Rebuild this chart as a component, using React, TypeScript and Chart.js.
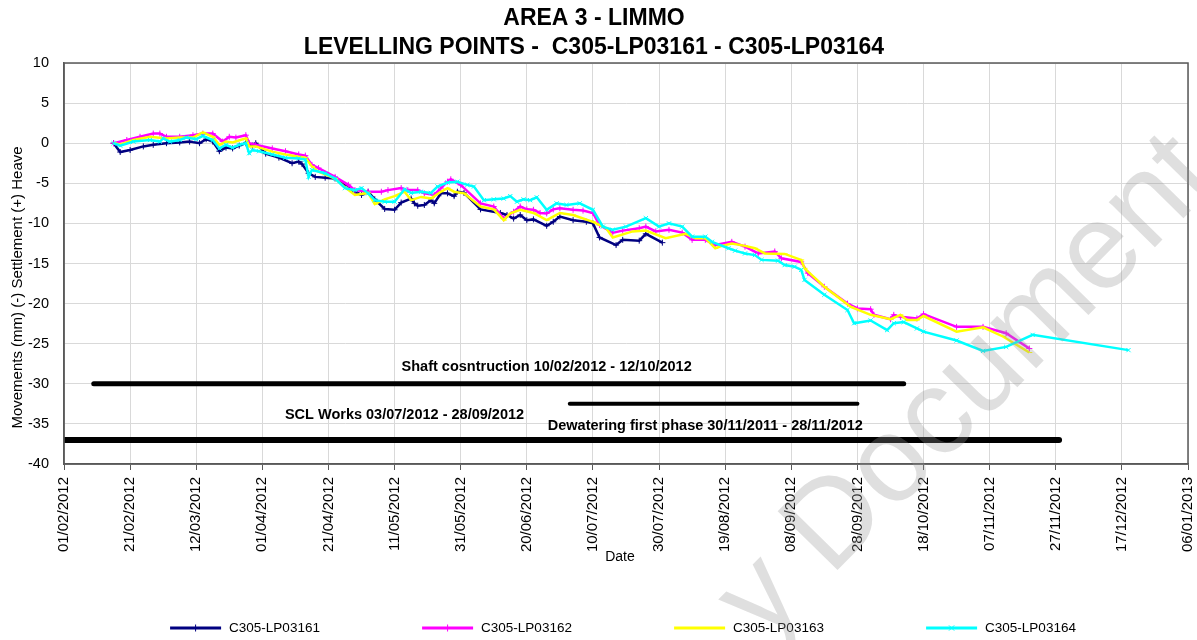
import { useEffect, useRef } from "react";
import { Chart, registerables } from "chart.js";

Chart.register(...registerables);

const FONT = "'Liberation Sans', Arial, sans-serif";

const TITLE_LINES = ["AREA 3 - LIMMO", "LEVELLING POINTS -  C305-LP03161 - C305-LP03164"];
const Y_AXIS_TITLE = "Movements (mm) (-) Settlement (+) Heave";
const X_AXIS_TITLE = "Date";
const WATERMARK = "y Document";

const X_AXIS_START = "2012-02-01";
const X_AXIS_END = "2013-01-06";
const X_TICK_STEP_DAYS = 20;
const Y_MIN = -40;
const Y_MAX = 10;
const Y_STEP = 5;

const SERIES_NAMES = ["C305-LP03161", "C305-LP03162", "C305-LP03163", "C305-LP03164"];
const SERIES_COLORS = ["#000080", "#FF00FF", "#FFFF00", "#00FFFF"];
const SERIES_MARKERS = ["cross", "cross", "dash", "crossRot"];

const lp03161Dates = [
  "2012-02-16", "2012-02-18", "2012-02-21", "2012-02-25", "2012-02-28", "2012-03-03", "2012-03-07", "2012-03-10",
  "2012-03-13", "2012-03-15", "2012-03-17", "2012-03-19", "2012-03-21", "2012-03-23", "2012-03-25", "2012-03-27",
  "2012-03-29", "2012-03-30", "2012-04-02", "2012-04-06", "2012-04-10", "2012-04-12", "2012-04-13", "2012-04-15",
  "2012-04-17", "2012-04-20", "2012-04-23", "2012-04-26", "2012-04-29", "2012-05-01", "2012-05-03", "2012-05-05",
  "2012-05-08", "2012-05-11", "2012-05-13", "2012-05-16", "2012-05-17", "2012-05-18", "2012-05-20", "2012-05-22",
  "2012-05-23", "2012-05-25", "2012-05-27", "2012-05-29", "2012-05-30", "2012-06-01", "2012-06-06", "2012-06-12",
  "2012-06-14", "2012-06-16", "2012-06-18", "2012-06-20", "2012-06-22", "2012-06-26", "2012-06-28", "2012-06-30",
  "2012-07-04", "2012-07-08", "2012-07-10", "2012-07-12", "2012-07-17", "2012-07-19", "2012-07-24", "2012-07-26",
  "2012-07-31",
];
const lp03161Values = [
  0.0, -1.1, -0.85, -0.4, -0.2, 0.0, 0.1, 0.2,
  0.0, 0.5, 0.2, -1.0, -0.55, -0.65, -0.3, 0.0,
  -0.3, 0.0, -1.3, -1.8, -2.5, -2.3, -2.6, -3.75,
  -4.2, -4.3, -4.4, -5.2, -6.05, -6.45, -6.05, -7.0,
  -8.2, -8.3, -7.4, -6.9, -7.5, -7.8, -7.7, -7.1,
  -7.5, -6.25, -6.25, -6.6, -6.05, -6.2, -8.25, -8.7,
  -8.95, -9.4, -8.95, -9.6, -9.5, -10.3, -9.8, -9.15,
  -9.6, -9.8, -10.0, -11.75, -12.7, -12.05, -12.15, -11.3,
  -12.4,
];

const lp03162Dates = [
  "2012-02-16", "2012-02-20", "2012-02-24", "2012-02-28", "2012-03-01", "2012-03-03", "2012-03-07", "2012-03-11",
  "2012-03-14", "2012-03-17", "2012-03-20", "2012-03-22", "2012-03-24", "2012-03-27", "2012-03-28", "2012-03-30",
  "2012-04-04", "2012-04-08", "2012-04-12", "2012-04-14", "2012-04-16", "2012-04-18", "2012-04-23", "2012-04-27",
  "2012-04-29", "2012-05-03", "2012-05-07", "2012-05-09", "2012-05-13", "2012-05-15", "2012-05-18", "2012-05-20",
  "2012-05-23", "2012-05-25", "2012-05-27", "2012-05-28", "2012-05-31", "2012-06-06", "2012-06-10", "2012-06-13",
  "2012-06-16", "2012-06-18", "2012-06-20", "2012-06-22", "2012-06-24", "2012-06-26", "2012-06-28", "2012-06-30",
  "2012-07-04", "2012-07-07", "2012-07-10", "2012-07-12", "2012-07-16", "2012-07-19", "2012-07-24", "2012-07-26",
  "2012-07-29", "2012-08-02", "2012-08-06", "2012-08-09", "2012-08-13", "2012-08-16", "2012-08-21", "2012-08-25",
  "2012-08-29", "2012-09-03", "2012-09-05", "2012-09-11", "2012-09-13", "2012-09-18", "2012-09-25", "2012-09-28",
  "2012-10-02", "2012-10-03", "2012-10-08", "2012-10-09", "2012-10-11", "2012-10-16", "2012-10-18", "2012-10-28",
  "2012-11-05", "2012-11-12", "2012-11-19",
];
const lp03162Values = [
  0.0, 0.4, 0.8, 1.2, 1.2, 0.8, 0.8, 1.0,
  1.2, 1.2, 0.2, 0.8, 0.7, 1.0, 0.0, -0.2,
  -0.65, -1.0, -1.4, -1.55, -2.7, -3.1, -4.2, -5.2,
  -5.85, -6.05, -6.05, -5.85, -5.6, -5.85, -5.85, -6.25,
  -6.45, -5.6, -4.8, -4.5, -5.2, -7.5, -7.9, -9.4,
  -8.55, -7.9, -8.25, -8.3, -8.7, -8.75, -8.25, -8.1,
  -8.3, -8.4, -8.7, -10.2, -11.15, -10.9, -10.6, -10.4,
  -11.0, -10.8, -11.15, -12.05, -12.05, -12.7, -12.3, -12.9,
  -13.75, -13.5, -14.35, -14.8, -16.2, -17.9, -20.0, -20.6,
  -20.7, -21.4, -21.95, -21.4, -21.65, -21.85, -21.3, -22.9,
  -22.9, -23.7, -25.6,
];

const lp03163Dates = [
  "2012-02-16", "2012-02-18", "2012-02-22", "2012-02-27", "2012-03-03", "2012-03-07", "2012-03-11", "2012-03-14",
  "2012-03-17", "2012-03-19", "2012-03-21", "2012-03-23", "2012-03-27", "2012-03-28", "2012-03-30", "2012-04-04",
  "2012-04-08", "2012-04-12", "2012-04-14", "2012-04-16", "2012-04-18", "2012-04-23", "2012-04-26", "2012-04-29",
  "2012-05-03", "2012-05-05", "2012-05-08", "2012-05-11", "2012-05-14", "2012-05-16", "2012-05-19", "2012-05-22",
  "2012-05-25", "2012-05-27", "2012-05-29", "2012-06-01", "2012-06-06", "2012-06-10", "2012-06-13", "2012-06-15",
  "2012-06-18", "2012-06-22", "2012-06-26", "2012-06-30", "2012-07-04", "2012-07-10", "2012-07-14", "2012-07-16",
  "2012-07-22", "2012-07-26", "2012-08-01", "2012-08-07", "2012-08-10", "2012-08-13", "2012-08-16", "2012-08-18",
  "2012-08-21", "2012-08-25", "2012-08-28", "2012-08-31", "2012-09-06", "2012-09-11", "2012-09-12", "2012-09-18",
  "2012-09-26", "2012-10-02", "2012-10-08", "2012-10-11", "2012-10-13", "2012-10-16", "2012-10-18", "2012-10-28",
  "2012-11-05", "2012-11-11", "2012-11-19",
];
const lp03163Values = [
  0.0, -0.15, 0.4, 0.8, 0.6, 0.7, 0.7, 1.35,
  0.8, -0.2, 0.2, 0.1, 0.6, -0.4, -0.4, -1.05,
  -1.4, -1.7, -1.8, -2.9, -3.55, -4.4, -5.5, -6.45,
  -6.2, -7.6, -7.0, -6.6, -6.05, -7.1, -6.7, -6.9,
  -6.05, -5.6, -6.05, -6.25, -7.9, -8.25, -9.6, -8.75,
  -8.3, -8.7, -9.6, -8.7, -8.95, -9.8, -10.6, -11.75,
  -11.0, -10.9, -11.85, -11.3, -11.85, -11.85, -13.1, -12.8,
  -12.5, -12.8, -13.1, -13.75, -13.8, -14.55, -15.6, -17.9,
  -20.4, -21.4, -21.95, -21.4, -22.05, -22.05, -21.55, -23.5,
  -22.95, -24.1, -26.1,
];

const lp03164Dates = [
  "2012-02-16", "2012-02-18", "2012-02-22", "2012-02-27", "2012-03-01", "2012-03-02", "2012-03-04", "2012-03-07",
  "2012-03-09", "2012-03-12", "2012-03-14", "2012-03-17", "2012-03-19", "2012-03-21", "2012-03-23", "2012-03-25",
  "2012-03-27", "2012-03-28", "2012-03-29", "2012-03-31", "2012-04-04", "2012-04-08", "2012-04-12", "2012-04-14",
  "2012-04-15", "2012-04-16", "2012-04-20", "2012-04-23", "2012-04-26", "2012-04-29", "2012-05-01", "2012-05-03",
  "2012-05-05", "2012-05-08", "2012-05-11", "2012-05-14", "2012-05-16", "2012-05-19", "2012-05-22", "2012-05-24",
  "2012-05-27", "2012-05-30", "2012-06-02", "2012-06-04", "2012-06-07", "2012-06-10", "2012-06-13", "2012-06-15",
  "2012-06-17", "2012-06-19", "2012-06-21", "2012-06-23", "2012-06-26", "2012-06-29", "2012-07-02", "2012-07-06",
  "2012-07-10", "2012-07-13", "2012-07-16", "2012-07-20", "2012-07-26", "2012-07-30", "2012-08-02", "2012-08-06",
  "2012-08-09", "2012-08-13", "2012-08-15", "2012-08-20", "2012-08-22", "2012-08-25", "2012-08-28", "2012-08-30",
  "2012-09-04", "2012-09-06", "2012-09-09", "2012-09-11", "2012-09-12", "2012-09-18", "2012-09-25", "2012-09-27",
  "2012-10-02", "2012-10-07", "2012-10-09", "2012-10-12", "2012-10-16", "2012-10-18", "2012-10-28", "2012-11-05",
  "2012-11-12", "2012-11-20", "2012-12-19",
];
const lp03164Values = [
  0.0, -0.3, 0.2, 0.4, 0.2, 0.6, 0.2, 0.4,
  0.7, 0.5, 0.9, 0.4, -0.65, -0.2, -0.55, -0.2,
  0.0, -1.25, -0.85, -1.0, -1.4, -1.8, -1.9, -2.05,
  -4.2, -3.35, -3.75, -4.4, -5.6, -5.85, -5.6, -6.25,
  -7.1, -7.3, -7.3, -5.75, -6.2, -6.05, -6.2, -5.4,
  -4.9, -4.8, -5.2, -5.4, -7.1, -7.0, -6.9, -6.6,
  -7.3, -7.0, -7.1, -6.75, -8.3, -7.5, -7.7, -7.5,
  -8.3, -10.4, -10.8, -10.4, -9.35, -10.4, -10.0, -10.4,
  -11.65, -11.65, -12.3, -13.1, -13.4, -13.75, -13.95, -14.55,
  -14.65, -15.2, -15.4, -15.8, -17.05, -18.9, -20.8, -22.45,
  -22.1, -23.3, -22.45, -22.3, -23.1, -23.5, -24.6, -25.9,
  -25.4, -23.9, -25.8,
];

const SERIES_DATES = [lp03161Dates, lp03162Dates, lp03163Dates, lp03164Dates];
const SERIES_VALUES = [lp03161Values, lp03162Values, lp03163Values, lp03164Values];

const PHASE_LABELS = [
  "Shaft cosntruction 10/02/2012 - 12/10/2012",
  "SCL Works 03/07/2012 - 28/09/2012",
  "Dewatering first phase 30/11/2011 - 28/11/2012",
];
const PHASE_STARTS = ["2012-02-10", "2012-07-03", "2011-11-30"];
const PHASE_ENDS = ["2012-10-12", "2012-09-28", "2012-11-28"];
const PHASE_LEVELS = [-30, -32.5, -37];
const PHASE_LABEL_DATES = ["2012-06-26", "2012-05-14", "2012-08-13"];
const PHASE_LABEL_LEVELS = [-27.9, -33.9, -35.25];
const PHASE_LINE_WIDTHS = [5, 4, 6];

const DAY_MS = 86400000;
const parseIso = (iso: string) => {
  const [y, m, d] = iso.split("-").map(Number);
  return Date.UTC(y, m - 1, d);
};
const BASE_MS = parseIso(X_AXIS_START);
const toDay = (iso: string) => (parseIso(iso) - BASE_MS) / DAY_MS;
const pad2 = (n: number) => (n < 10 ? "0" + n : "" + n);
const fmtDay = (day: number) => {
  const d = new Date(BASE_MS + Math.round(day) * DAY_MS);
  return `${pad2(d.getUTCDate())}/${pad2(d.getUTCMonth() + 1)}/${d.getUTCFullYear()}`;
};

function drawMarker(ctx: CanvasRenderingContext2D, style: string, x: number, y: number, r: number) {
  ctx.beginPath();
  if (style === "cross") {
    ctx.moveTo(x - r, y); ctx.lineTo(x + r, y);
    ctx.moveTo(x, y - r); ctx.lineTo(x, y + r);
  } else if (style === "crossRot") {
    const k = r * 0.75;
    ctx.moveTo(x - k, y - k); ctx.lineTo(x + k, y + k);
    ctx.moveTo(x - k, y + k); ctx.lineTo(x + k, y - k);
  } else {
    ctx.moveTo(x - r, y); ctx.lineTo(x + r, y);
  }
  ctx.stroke();
}

const decorPlugin = {
  id: "decor",
  afterDatasetsDraw(chart: any) {
    const { ctx, chartArea, scales } = chart;
    const { left, right, top, bottom } = chartArea;
    ctx.save();
    ctx.strokeStyle = "#595959";
    ctx.lineWidth = 1.5;
    ctx.strokeRect(left, top, right - left, bottom - top);

    ctx.fillStyle = "#000";
    ctx.font = `bold 14.5px ${FONT}`;
    ctx.textAlign = "center";
    ctx.textBaseline = "middle";
    PHASE_LABELS.forEach((txt, i) => {
      const x = scales.x.getPixelForValue(toDay(PHASE_LABEL_DATES[i]));
      const y = scales.y.getPixelForValue(PHASE_LABEL_LEVELS[i]);
      ctx.fillText(txt, x, y);
    });

    ctx.font = `15px ${FONT}`;
    ctx.save();
    ctx.translate(18, (top + bottom) / 2 + 24);
    ctx.rotate(-Math.PI / 2);
    ctx.fillText(Y_AXIS_TITLE, 0, 0);
    ctx.restore();
    ctx.font = `14px ${FONT}`;
    ctx.fillText(X_AXIS_TITLE, (left + right) / 2 - 6, bottom + 93);

    ctx.font = `13.5px ${FONT}`;
    ctx.textAlign = "left";
    const lineLen = 51;
    const gap = 8;
    const step = 252;
    const textW = ctx.measureText(SERIES_NAMES[0]).width;
    const total = step * (SERIES_NAMES.length - 1) + lineLen + gap + textW;
    let x0 = (left + right) / 2 - total / 2 - 3;
    const ly = chart.height - 12;
    SERIES_NAMES.forEach((name, i) => {
      ctx.strokeStyle = SERIES_COLORS[i];
      ctx.lineWidth = 3;
      ctx.beginPath();
      ctx.moveTo(x0, ly);
      ctx.lineTo(x0 + lineLen, ly);
      ctx.stroke();
      ctx.lineWidth = 1;
      drawMarker(ctx, SERIES_MARKERS[i], x0 + lineLen / 2, ly, 3.5);
      ctx.fillStyle = "#000";
      ctx.fillText(name, x0 + lineLen + gap, ly);
      x0 += step;
    });
    ctx.restore();
  },
  afterDraw(chart: any) {
    const { ctx } = chart;
    ctx.save();
    ctx.translate(764, 645);
    ctx.rotate((-45.5 * Math.PI) / 180);
    ctx.font = `122px ${FONT}`;
    ctx.fillStyle = "rgba(150,150,150,0.3)";
    ctx.textAlign = "left";
    ctx.textBaseline = "alphabetic";
    ctx.fillText(WATERMARK, 0, 0);
    ctx.restore();
  },
};

export default function App() {
  const ref = useRef<HTMLCanvasElement | null>(null);

  useEffect(() => {
    if (!ref.current) return;
    const seriesSets = SERIES_NAMES.map((name, i) => ({
      label: name,
      data: SERIES_DATES[i].map((d, j) => ({ x: toDay(d), y: SERIES_VALUES[i][j] })),
      borderColor: SERIES_COLORS[i],
      backgroundColor: SERIES_COLORS[i],
      borderWidth: 2.5,
      pointStyle: SERIES_MARKERS[i],
      pointRadius: 3,
      pointBorderWidth: 1,
      pointBorderColor: SERIES_COLORS[i],
      tension: 0,
      fill: false,
      order: SERIES_NAMES.length - i,
    }));
    const phaseSets = PHASE_LABELS.map((name, i) => ({
      label: name,
      data: [
        { x: toDay(PHASE_STARTS[i]), y: PHASE_LEVELS[i] },
        { x: toDay(PHASE_ENDS[i]), y: PHASE_LEVELS[i] },
      ],
      borderColor: "#000",
      backgroundColor: "#000",
      borderWidth: PHASE_LINE_WIDTHS[i],
      borderCapStyle: "round",
      pointRadius: 0,
      fill: false,
      order: 10,
    }));

    const chart = new Chart(ref.current, {
      type: "line",
      data: { datasets: [...seriesSets, ...phaseSets] as any },
      options: {
        responsive: true,
        maintainAspectRatio: false,
        animation: false,
        layout: { padding: { left: 0, right: 9, top: 0, bottom: 76 } },
        plugins: {
          legend: { display: false },
          tooltip: { enabled: false },
          title: {
            display: true,
            text: TITLE_LINES,
            color: "#000",
            font: { family: FONT, size: 23, weight: "bold", lineHeight: "29px" } as any,
            padding: { top: 4, bottom: 1 },
          },
        },
        scales: {
          x: {
            type: "linear",
            min: toDay(X_AXIS_START),
            max: toDay(X_AXIS_END),
            afterFit: (s: any) => {
              s.height = 100;
              s.paddingLeft = 0;
              s.paddingRight = 0;
            },
            ticks: {
              stepSize: X_TICK_STEP_DAYS,
              autoSkip: false,
              maxRotation: 90,
              minRotation: 90,
              padding: 7,
              color: "#000",
              font: { family: FONT, size: 15 },
              callback: (v: any) => fmtDay(Number(v)),
            },
            grid: { color: "#d9d9d9", lineWidth: 1, tickColor: "#595959", tickLength: 6, drawTicks: true },
            border: { color: "#595959", width: 1.5 },
          },
          y: {
            type: "linear",
            min: Y_MIN,
            max: Y_MAX,
            afterFit: (s: any) => {
              s.width = 64;
              s.paddingTop = 0;
              s.paddingBottom = 0;
            },
            ticks: {
              stepSize: Y_STEP,
              padding: 15,
              color: "#000",
              font: { family: FONT, size: 14.5 },
            },
            grid: { color: "#d9d9d9", lineWidth: 1, drawTicks: false },
            border: { color: "#595959", width: 1.5 },
          },
        },
      },
      plugins: [decorPlugin],
    });
    return () => chart.destroy();
  }, []);

  return (
    <div style={{ position: "fixed", left: 0, top: 0, width: 1197, height: 640, background: "#fff" }}>
      <canvas ref={ref} />
    </div>
  );
}
